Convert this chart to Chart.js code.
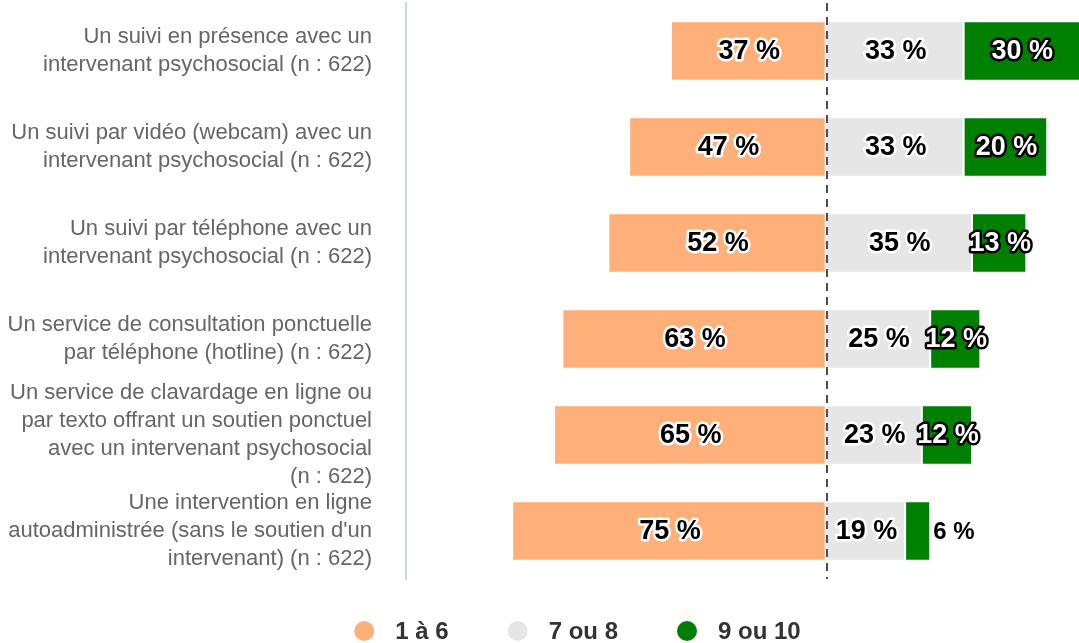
<!DOCTYPE html>
<html lang="fr">
<head>
<meta charset="utf-8">
<title>Intérêt envers les modalités de suivi</title>
<script src="https://cdn.jsdelivr.net/npm/chart.js@4.4.1/dist/chart.umd.min.js"></script>
<style>
    html, body { margin: 0; padding: 0; background: #ffffff; }
    #wrap { width: 1079px; height: 643px; position: relative; }
</style>
</head>
<body>
<div id="wrap"><canvas id="modalites-chart"></canvas></div>
<script>
// --- Data ---
const categories = [
    ['Un suivi en présence avec un', 'intervenant psychosocial (n : 622)'],
    ['Un suivi par vidéo (webcam) avec un', 'intervenant psychosocial (n : 622)'],
    ['Un suivi par téléphone avec un', 'intervenant psychosocial (n : 622)'],
    ['Un service de consultation ponctuelle', 'par téléphone (hotline) (n : 622)'],
    ['Un service de clavardage en ligne ou', 'par texto offrant un soutien ponctuel', 'avec un intervenant psychosocial', '(n : 622)'],
    ['Une intervention en ligne', 'autoadministrée (sans le soutien d\'un', 'intervenant) (n : 622)']
];
const seriesNames = ['1 à 6', '7 ou 8', '9 ou 10'];
const lowScores = [37, 47, 52, 63, 65, 75];     // drawn to the left of zero
const midScores = [33, 33, 35, 25, 23, 19];
const highScores = [30, 20, 13, 12, 12, 6];

const COLORS = ['#ffaf78', '#e6e6e6', '#008000'];
const LABEL_FONT = 'bold 27px "Liberation Sans", Arial, sans-serif';

// --- Plugins ---
const zeroLinePlugin = {
    id: 'zeroLine',
    afterDatasetsDraw(chart) {
        const { ctx, chartArea, scales } = chart;
        const x = Math.round(scales.x.getPixelForValue(0)) + 1;
        ctx.save();
        ctx.strokeStyle = '#4d4d57';
        ctx.lineWidth = 2;
        ctx.setLineDash([8, 6]);
        ctx.beginPath();
        ctx.moveTo(x, chartArea.top);
        ctx.lineTo(x, chartArea.bottom);
        ctx.stroke();
        ctx.restore();
    }
};

const barLabelsPlugin = {
    id: 'barLabels',
    afterDatasetsDraw(chart) {
        const { ctx, chartArea } = chart;
        ctx.save();
        ctx.textBaseline = 'middle';
        ctx.lineJoin = 'round';
        chart.data.datasets.forEach((ds, di) => {
            const meta = chart.getDatasetMeta(di);
            meta.data.forEach((bar, i) => {
                const value = Math.abs(ds.data[i]);
                const { x, base, y } = bar.getProps(['x', 'base', 'y'], true);
                const left = Math.max(Math.min(x, base), chartArea.left);
                const right = Math.min(Math.max(x, base), chartArea.right);
                const text = value + ' %';
                if (value < 10) {
                    // too narrow: label sits just past the bar end
                    ctx.font = 'bold 24px "Liberation Sans", Arial, sans-serif';
                    ctx.textAlign = 'left';
                    ctx.fillStyle = '#000000';
                    ctx.fillText(text, right + 3, y + 1);
                    return;
                }
                const cx = (left + right) / 2 + 1;
                ctx.font = LABEL_FONT;
                ctx.textAlign = 'center';
                ctx.lineWidth = 5;
                if (di === 2) {
                    ctx.strokeStyle = '#000000';
                    ctx.fillStyle = '#ffffff';
                } else {
                    ctx.strokeStyle = '#ffffff';
                    ctx.fillStyle = '#000000';
                }
                ctx.strokeText(text, cx, y + 1);
                ctx.fillText(text, cx, y + 1);
            });
        });
        ctx.restore();
    }
};

const bottomLegendPlugin = {
    id: 'bottomLegend',
    afterDraw(chart) {
        const { ctx } = chart;
        const y = 631;
        const radius = 10;
        const textGap = 21;
        const itemGap = 59;
        ctx.save();
        ctx.font = 'bold 24px "Liberation Sans", Arial, sans-serif';
        ctx.textBaseline = 'middle';
        ctx.textAlign = 'left';
        const widths = chart.data.datasets.map(ds => radius * 2 + textGap + ctx.measureText(ds.label).width);
        const total = widths.reduce((a, b) => a + b, 0) + itemGap * (widths.length - 1);
        let x = (chart.width - total) / 2 + 38;
        chart.data.datasets.forEach((ds, i) => {
            ctx.fillStyle = ds.backgroundColor;
            ctx.beginPath();
            ctx.arc(x + radius, y, radius, 0, Math.PI * 2);
            ctx.fill();
            ctx.fillStyle = '#333333';
            ctx.fillText(ds.label, x + radius * 2 + textGap, y + 1);
            x += widths[i] + itemGap;
        });
        ctx.restore();
    }
};

// --- Chart ---
const ctx = document.getElementById('modalites-chart').getContext('2d');
new Chart(ctx, {
    type: 'bar',
    data: {
        labels: categories,
        datasets: [
            { label: seriesNames[0], data: lowScores.map(v => -v), backgroundColor: COLORS[0] },
            { label: seriesNames[1], data: midScores, backgroundColor: COLORS[1] },
            { label: seriesNames[2], data: highScores, backgroundColor: COLORS[2] }
        ].map(ds => Object.assign(ds, {
            borderColor: '#ffffff',
            borderWidth: 1,
            borderSkipped: false,
            barPercentage: 0.62,
            categoryPercentage: 1
        }))
    },
    options: {
        indexAxis: 'y',
        responsive: true,
        maintainAspectRatio: false,
        animation: false,
        layout: { padding: { top: 3, bottom: 64, left: 0, right: 0 } },
        scales: {
            x: {
                stacked: true,
                min: -100.4,
                max: 60.6,
                display: false
            },
            y: {
                stacked: true,
                grid: { display: false, drawTicks: false },
                border: { display: true, color: '#ccd6eb', width: 2 },
                ticks: {
                    autoSkip: false,
                    color: '#666666',
                    padding: 34,
                    font: { family: '"Liberation Sans", Arial, sans-serif', size: 22, lineHeight: 1.27 }
                },
                afterFit(scale) {
                    scale.width = 406;
                    // multi-line labels must not push the plot area inward
                    scale.paddingTop = 0;
                    scale.paddingBottom = 0;
                }
            }
        },
        plugins: {
            legend: { display: false },
            tooltip: { enabled: false }
        }
    },
    plugins: [zeroLinePlugin, barLabelsPlugin, bottomLegendPlugin]
});
</script>
</body>
</html>
